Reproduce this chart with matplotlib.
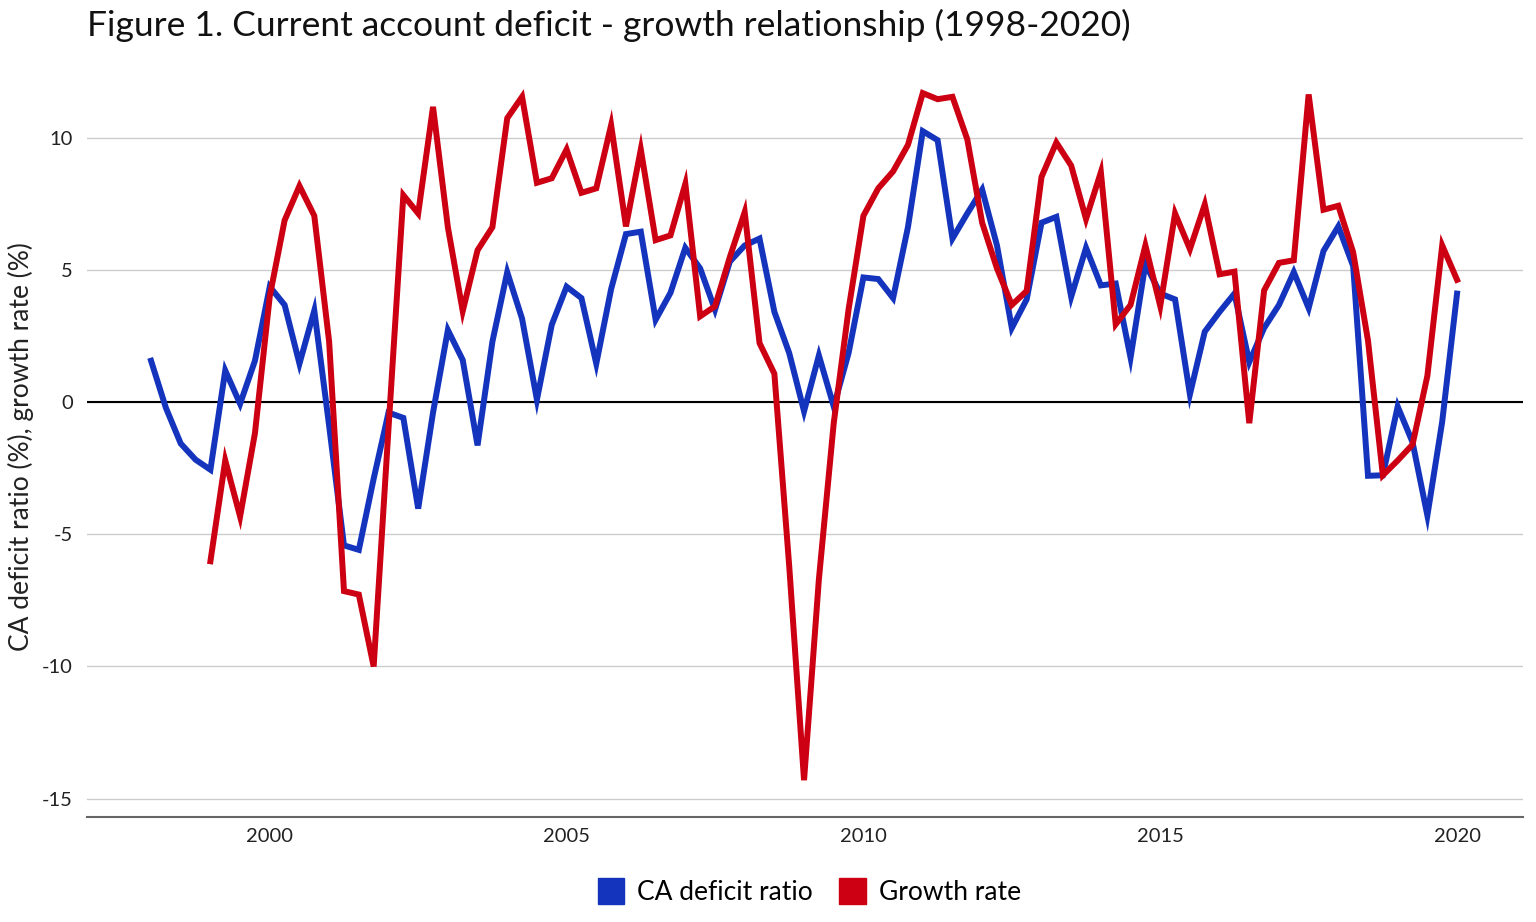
import numpy as np
import pandas as pd
import matplotlib
matplotlib.use("Agg")
import matplotlib.pyplot as plt
from matplotlib.patches import Patch

plt.rcParams['font.family'] = ['Lato', 'DejaVu Sans']

# Quarterly data, 1998Q1 - 2020Q1
ca_start = '1998Q1'
ca_deficit = [1.56, -0.22, -1.57, -2.18,
              -2.56, 1.19, -0.07, 1.56,
              4.36, 3.67, 1.45, 3.46,
              -0.9, -5.42, -5.59, -2.9,
              -0.4, -0.6, -4.03, -0.4,
              2.72, 1.59, -1.64, 2.28,
              4.91, 3.15, 0.09, 2.92,
              4.36, 3.93, 1.45, 4.27,
              6.35, 6.44, 3.11, 4.13,
              5.83, 5.05, 3.49, 5.31,
              5.92, 6.18, 3.41, 1.85,
              -0.35, 1.76, -0.17, 1.85,
              4.71, 4.65, 3.93, 6.61,
              10.24, 9.9, 6.18, 7.13,
              8.03, 5.92, 2.8, 3.88,
              6.78, 7.0, 3.98, 5.83,
              4.41, 4.48, 1.68, 5.22,
              4.1, 3.88, 0.29, 2.66,
              3.41, 4.1, 1.51, 2.8,
              3.67, 4.91, 3.55, 5.71,
              6.64, 5.14, -2.79, -2.77,
              -0.17, -1.52, -4.29, -0.74,
              4.1]

growth_start = '1999Q1'
growth = [-6.02, -2.21, -4.33, -1.18,
          4.0, 6.87, 8.17, 7.04,
          2.28, -7.15, -7.28, -10.0,
          -1.0, 7.82, 7.13, 11.16,
          6.61, 3.44, 5.74, 6.61,
          10.73, 11.54, 8.29, 8.46,
          9.55, 7.91, 8.08, 10.47,
          6.64, 9.55, 6.12, 6.3,
          8.25, 3.24, 3.62, 5.48,
          7.18, 2.23, 1.07, -6.2,
          -14.3, -6.7, -0.8, 3.5,
          7.04, 8.08, 8.72, 9.72,
          11.68, 11.45, 11.54, 9.93,
          6.78, 5.05, 3.67, 4.2,
          8.51, 9.81, 8.94, 6.92,
          8.69, 2.94, 3.67, 5.92,
          3.63, 7.13, 5.78, 7.47,
          4.83, 4.93, -0.8, 4.22,
          5.26, 5.36, 11.63, 7.27,
          7.42, 5.66, 2.32, -2.77,
          -2.21, -1.61, 0.99, 5.92,
          4.62]

year_ticks = [2000, 2005, 2010, 2015, 2020]
y_ticks = [-15, -10, -5, 0, 5, 10]


def quarter_positions(start, n):
    q = pd.period_range(start, periods=n, freq='Q')
    return q.year + (q.quarter - 1) / 4.0


x_ca = quarter_positions(ca_start, len(ca_deficit))
x_gr = quarter_positions(growth_start, len(growth))

blue = '#1434BE'
red = '#CC0012'

fig = plt.figure(figsize=(15.36, 9.22), dpi=100)
ax = fig.add_axes([0.0566, 0.1139, 0.9349, 0.8029])

ax.plot(x_ca, ca_deficit, color=blue, lw=4.3, solid_joinstyle='miter', zorder=3)
ax.plot(x_gr, growth, color=red, lw=4.3, solid_joinstyle='miter', zorder=4)

ax.axhline(0, color='black', lw=1.5, zorder=2)

ax.set_xlim(1996.92, 2021.11)
ax.set_ylim(-15.69, 12.3)
ax.set_xticks(year_ticks)
ax.set_yticks(y_ticks)
ax.set_yticklabels([str(v) for v in y_ticks])
ax.grid(axis='y', color='#cccccc', lw=1)
ax.set_axisbelow(True)

for s in ['top', 'right', 'left']:
    ax.spines[s].set_visible(False)
ax.spines['bottom'].set_color('#666666')
ax.spines['bottom'].set_linewidth(1.5)
ax.tick_params(axis='both', length=0, labelsize=14.5, colors='#222222')
ax.tick_params(axis='x', pad=8)
ax.tick_params(axis='y', pad=10)

ax.set_ylabel('CA deficit ratio (%), growth rate (%)', fontsize=19, color='#222222', labelpad=6)
fig.text(0.0566, 0.972, 'Figure 1. Current account deficit - growth relationship (1998-2020)',
         fontsize=25.5, va='center', ha='left', color='#111111')

handles = [Patch(color=blue, label='CA deficit ratio'), Patch(color=red, label='Growth rate')]
fig.legend(handles=handles, loc='center', bbox_to_anchor=(0.527, 0.033), ncol=2, frameon=False,
           fontsize=19, handlelength=1.0, handleheight=1.1, handletextpad=0.5, columnspacing=1.0)

fig.savefig('out.png', dpi=100)
